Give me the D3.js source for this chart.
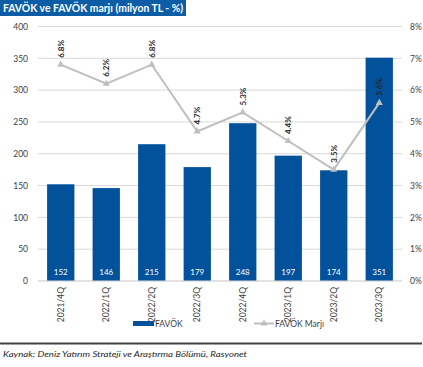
<!DOCTYPE html>
<html>
<head>
<meta charset="utf-8">
<script src="https://cdn.jsdelivr.net/npm/d3@7"></script>
<style>
  html, body { margin: 0; padding: 0; background: #fff; }
  svg { display: block; font-family: Lato, "Open Sans", sans-serif; }
</style>
</head>
<body>
<svg id="chart" width="423" height="367"></svg>
<script>
// Quarterly EBITDA (FAVÖK, million TL) and EBITDA margin (%)
const quarters = ["2021/4Q", "2022/1Q", "2022/2Q", "2022/3Q", "2022/4Q", "2023/1Q", "2023/2Q", "2023/3Q"];
const favok = [152, 146, 215, 179, 248, 197, 174, 351];
const marj = [6.8, 6.2, 6.8, 4.7, 5.3, 4.4, 3.5, 5.6];
const leftTicks = [0, 50, 100, 150, 200, 250, 300, 350, 400];
const rightTicks = [0, 1, 2, 3, 4, 5, 6, 7, 8];

const blue = "#02519b";
const gray = "#bfbfbf";

const svg = d3.select("#chart");
const plot = { left: 38, right: 402, top: 26.5, bottom: 281 };

// Title band
svg.append("rect").attr("x", 0).attr("y", 0).attr("width", 186).attr("height", 16).attr("fill", "#0d5ca6");
svg.append("text").attr("x", 3).attr("y", 12).attr("fill", "#fff")
  .attr("font-size", 10.5).attr("font-weight", "bold")
  .attr("textLength", 180).attr("lengthAdjust", "spacingAndGlyphs")
  .text("FAVÖK ve FAVÖK marjı (milyon TL - %)");

const x = d3.scaleBand().domain(quarters).range([plot.left, plot.right]).paddingInner(0.4).paddingOuter(0.2);
const yL = d3.scaleLinear().domain([0, 400]).range([plot.bottom, plot.top]);
const yR = d3.scaleLinear().domain([0, 8]).range([plot.bottom, plot.top]);

// Gridlines
svg.append("g").selectAll("line").data(leftTicks).join("line")
  .attr("x1", plot.left).attr("x2", plot.right)
  .attr("y1", d => yL(d)).attr("y2", d => yL(d))
  .attr("stroke", "#d9d9d9").attr("stroke-width", 1);

// Left axis
const axL = svg.append("g").attr("transform", `translate(${plot.left},0)`)
  .call(d3.axisLeft(yL).tickValues(leftTicks).tickSize(0).tickPadding(10));
axL.select(".domain").remove();
axL.selectAll("text").attr("font-size", 8.5).attr("fill", "#404040").attr("font-family", "Lato, sans-serif");

// Right axis
const axR = svg.append("g").attr("transform", `translate(${plot.right},0)`)
  .call(d3.axisRight(yR).tickValues(rightTicks).tickSize(0).tickPadding(8).tickFormat(d => d + "%"));
axR.select(".domain").remove();
axR.selectAll("text").attr("font-size", 8.5).attr("fill", "#404040").attr("font-family", "Lato, sans-serif");

// Bars
svg.append("g").selectAll("rect").data(favok).join("rect")
  .attr("x", (d, i) => x(quarters[i]))
  .attr("y", d => yL(d))
  .attr("width", x.bandwidth())
  .attr("height", d => yL(0) - yL(d))
  .attr("fill", blue);

// Bar value labels
svg.append("g").selectAll("text").data(favok).join("text")
  .attr("x", (d, i) => x(quarters[i]) + x.bandwidth() / 2)
  .attr("y", yL(0) - 6)
  .attr("text-anchor", "middle").attr("font-size", 8).attr("fill", "#fff")
  .text(d => d);

// Baseline
svg.append("line").attr("x1", plot.left).attr("x2", plot.right)
  .attr("y1", yL(0)).attr("y2", yL(0)).attr("stroke", "#d9d9d9");

// Margin line
const cx = (d, i) => x(quarters[i]) + x.bandwidth() / 2;
svg.append("path").datum(marj)
  .attr("d", d3.line().x(cx).y(d => yR(d)))
  .attr("fill", "none").attr("stroke", gray).attr("stroke-width", 2);

const tri = d3.symbol().type(d3.symbolTriangle).size(22);
svg.append("g").selectAll("path").data(marj).join("path")
  .attr("d", tri)
  .attr("transform", (d, i) => `translate(${cx(d, i)},${yR(d)})`)
  .attr("fill", gray);

// Margin labels (rotated)
svg.append("g").selectAll("text").data(marj).join("text")
  .attr("transform", (d, i) => `translate(${cx(d, i) + 3},${yR(d) - 7}) rotate(-90)`)
  .attr("text-anchor", "start").attr("font-size", 8).attr("font-weight", "bold").attr("fill", "#262626")
  .text(d => d.toFixed(1) + "%");

// Category labels (rotated)
svg.append("g").selectAll("text").data(quarters).join("text")
  .attr("transform", d => `translate(${x(d) + x.bandwidth() / 2 + 3},287) rotate(-90)`)
  .attr("text-anchor", "end").attr("font-size", 8.5).attr("fill", "#404040")
  .text(d => d);

// Legend
svg.append("rect").attr("x", 133).attr("y", 321).attr("width", 21).attr("height", 5).attr("fill", blue);
svg.append("text").attr("x", 155).attr("y", 326.5).attr("font-size", 8.5).attr("fill", "#404040").text("FAVÖK");
svg.append("line").attr("x1", 254).attr("x2", 274).attr("y1", 323.5).attr("y2", 323.5)
  .attr("stroke", gray).attr("stroke-width", 2);
svg.append("path").attr("d", tri).attr("transform", "translate(264,323.5)").attr("fill", gray);
svg.append("text").attr("x", 275).attr("y", 326.5).attr("font-size", 8.5).attr("fill", "#404040").text("FAVÖK Marjı");

// Footer rule and source
svg.append("line").attr("x1", 0).attr("x2", 422).attr("y1", 343.5).attr("y2", 343.5)
  .attr("stroke", "#404040").attr("stroke-width", 2);
svg.append("text").attr("x", 3).attr("y", 357).attr("font-size", 8.5).attr("font-style", "italic").attr("fill", "#262626")
  .attr("textLength", 244).attr("lengthAdjust", "spacingAndGlyphs")
  .text("Kaynak: Deniz Yatırım Strateji ve Araştırma Bölümü, Rasyonet");
</script>
</body>
</html>
